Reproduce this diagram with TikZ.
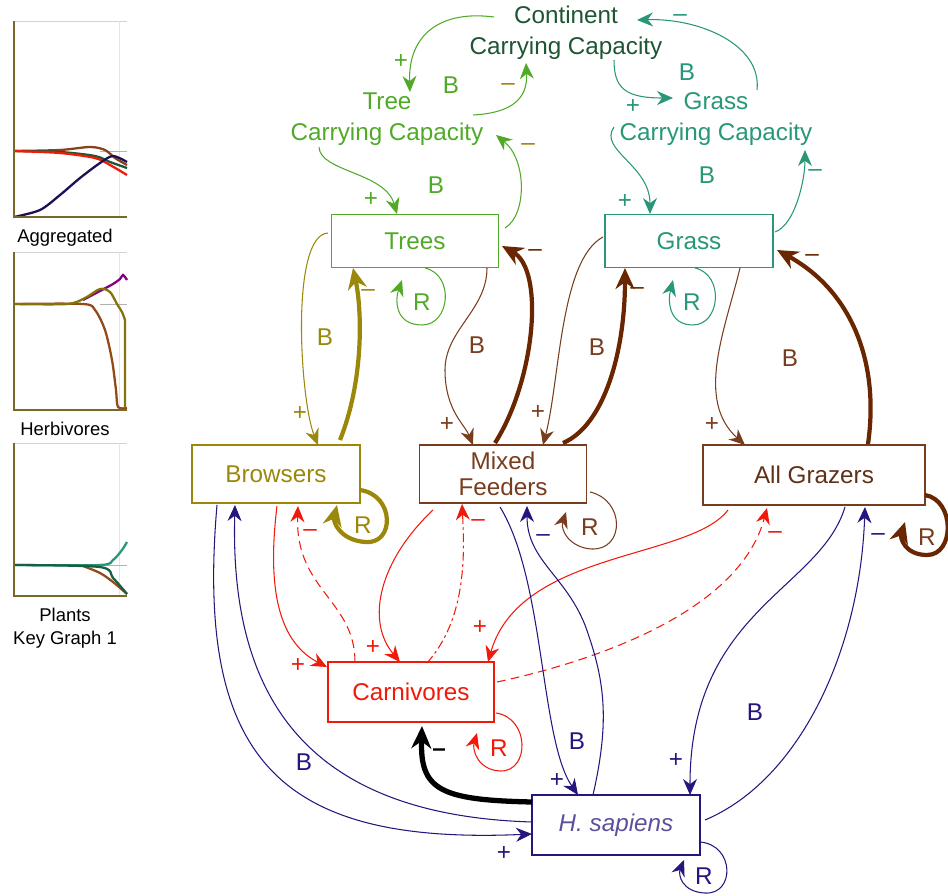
\documentclass[tikz,border=0pt]{standalone}
\usepackage{fontspec}
\setmainfont{Liberation Sans}
\usepackage{tikz}
\usetikzlibrary{positioning, calc, arrows.meta}
\definecolor{treegreen}{RGB}{80,170,40}
\definecolor{contgreen}{RGB}{30,85,50}
\definecolor{grassteal}{RGB}{40,150,120}
\definecolor{olive}{RGB}{155,135,10}
\definecolor{herbbrown}{RGB}{120,60,30}
\definecolor{darkbrown}{RGB}{105,38,0}
\definecolor{carnred}{RGB}{240,25,10}
\definecolor{navy}{RGB}{40,20,125}
\definecolor{axisolive}{RGB}{120,105,40}
\tikzstyle{stockbox} = [draw, rectangle, inner sep=0pt, line width=0.6pt,
minimum width=3.34cm, minimum height=1.06cm, align=center]
\tikzstyle{capacity} = [align=center, inner sep=0pt]
\tikzstyle{sign} = [inner sep=0pt]
\tikzstyle{thinlink} = [line width=0.6pt, -{Stealth[length=3.2mm, width=2.8mm]}]
\tikzstyle{thicklink} = [line width=2.4pt, -{Stealth[length=4.2mm, width=3.8mm]}]
\tikzstyle{weaklink} = [thinlink, dash pattern=on 5pt off 3pt]
\tikzstyle{chartline} = [line width=1.3pt]

\begin{document}
\begin{tikzpicture}[x=0.02cm, y=-0.02cm, font=\fontsize{13.8}{17.6}\selectfont]
	\useasboundingbox (0,0) rectangle (948,896);
	%% key graphs on the left
	\draw[gray!35] (14,21) -- (127,21);
	\draw[yellow!70] (119,21) -- (119,217);
	\draw[gray!60] (100,151) -- (127,151);
	\draw[chartline, herbbrown!90!orange] plot[smooth] coordinates {(14,151) (60,150) (90,147) (105,150) (115,158) (127,165)};
	\draw[chartline, contgreen] plot[smooth] coordinates {(14,151) (60,152) (95,156) (110,162) (127,168)};
	\draw[chartline, carnred] plot[smooth] coordinates {(14,151) (60,153) (95,158) (110,165) (127,175)};
	\draw[chartline, navy!70!black] plot[smooth] coordinates {(14,217) (40,210) (60,195) (80,178) (100,163) (113,156) (127,162)};
	\draw[axisolive, line width=0.9pt] (14,21) -- (14,217) -- (127,217);
	\node[font=\fontsize{10.5}{13}\selectfont] (aggr) at (65,238) {Aggregated};

	\draw[gray!35] (14,252) -- (127,252);
	\draw[yellow!70] (119,252) -- (119,410);
	\draw[gray!60] (100,304) -- (127,304);
	\draw[chartline, violet] plot[smooth] coordinates {(83,300) (100,291) (113,284) (120,279) (123,275) (127,280)};
	\draw[chartline, herbbrown!80!orange] plot[smooth] coordinates {(14,304) (83,304) (95,310) (105,330) (112,360) (116,390) (118,407) (127,408)};
	\draw[chartline, olive!85!black] plot[smooth] coordinates {(14,304) (67,304) (85,298) (100,289) (110,292) (117,304) (122,312) (125,320)} -- (125,408);
	\draw[axisolive, line width=0.9pt] (14,252) -- (14,410) -- (127,410);
	\node[font=\fontsize{10.5}{13}\selectfont] (herb) at (65,429) {Herbivores};

	\draw[gray!35] (14,443) -- (127,443);
	\draw[yellow!70] (119,443) -- (119,596);
	\draw[gray!60] (100,565) -- (127,565);
	\draw[chartline, grassteal] plot[smooth] coordinates {(14,565) (100,565) (113,560) (122,550) (127,542)};
	\draw[chartline, herbbrown!80!orange] plot[smooth] coordinates {(83,566) (100,573) (113,582) (127,594)};
	\draw[chartline, contgreen!80!teal] plot[smooth] coordinates {(14,565) (100,567) (113,578) (122,588) (127,594)};
	\draw[axisolive, line width=0.9pt] (14,443) -- (14,596) -- (127,596);
	\node[font=\fontsize{10.5}{13}\selectfont, align=center] (plants) at (65,628) {Plants\\Key Graph 1};

	%% capacities and stocks
	\node[capacity, contgreen] (cont) at (566,33) {Continent\\Carrying Capacity};
	\node[capacity, treegreen] (treecc) at (387,119) {Tree\\Carrying Capacity};
	\node[capacity, grassteal] (grasscc) at (716,119) {Grass\\Carrying Capacity};
	\node[stockbox, treegreen] (trees) at (415,241) {Trees};
	\node[stockbox, grassteal, minimum width=3.36cm] (grass) at (689,241) {Grass};
	\node[stockbox, olive, minimum height=1.16cm, minimum width=3.36cm] (brow) at (276,474) {Browsers};
	\node[stockbox, herbbrown, minimum height=1.16cm] (mixed) at (503,474) {Mixed\\[-3pt]Feeders};
	\node[stockbox, herbbrown, minimum height=1.2cm, minimum width=4.44cm] (graz) at (814,475) {\color{herbbrown!80!black}All Grazers};
	\node[stockbox, carnred, minimum height=1.2cm, minimum width=3.32cm] (carn) at (411,692) {Carnivores};
	\node[stockbox, navy, minimum height=1.2cm, minimum width=3.36cm] (sap) at (616,825) {\color{navy!75}\itshape H. sapiens};

	%% carrying capacity loops
	\draw[thinlink, treegreen] ($(cont)+(-72,-16)$) .. controls (440,10) and (408,35) .. ($(treecc)+(23,-27)$);
	\draw[thinlink, treegreen] ($(treecc)+(86,-4)$) .. controls (510,113) and (528,100) .. ($(cont)+(-40,30)$);
	\draw[thinlink, grassteal] ($(cont)+(48,27)$) .. controls (614,88) and (625,98) .. ($(grasscc)+(-43,-21)$);
	\draw[thinlink, grassteal] ($(grasscc)+(41,-29)$) .. controls (762,45) and (700,18) .. ($(cont)+(71,-13)$);
	\draw[thinlink, treegreen] ($(treecc)+(-68,28)$) .. controls (320,172) and (385,172) .. ($(trees)+(-18,-27)$);
	\draw[thinlink, treegreen] ($(trees)+(90,-13)$) .. controls (527,215) and (527,160) .. ($(treecc)+(109,16)$);
	\draw[thinlink, grassteal] ($(grasscc)+(-102,8)$) .. controls (598,150) and (650,165) .. ($(grass)+(-39,-27)$);
	\draw[thinlink, grassteal] ($(grass)+(86,-9)$) .. controls (795,225) and (805,180) .. ($(grasscc)+(89,31)$);
	\node[sign, treegreen] (p1) at (401,62) {+};
	\node[sign, olive] (m1) at (508,87) {\textendash};
	\node[sign, grassteal] (p2) at (633,107) {+};
	\node[sign, grassteal] (m2) at (680,18) {\textendash};
	\node[sign, treegreen] (p3) at (371,200) {+};
	\node[sign, olive] (m3) at (528,147) {\textendash};
	\node[sign, grassteal] (p4) at (625,202) {+};
	\node[sign, grassteal] (m4) at (815,173) {\textendash};
	\node[sign, treegreen] (b1) at (451,85) {B};
	\node[sign, grassteal] (b2) at (687,72) {B};
	\node[sign, treegreen] (b3) at (436,185) {B};
	\node[sign, grassteal] (b4) at (707,175) {B};

	%% plants to herbivores
	\draw[thinlink, olive] ($(trees)+(-87,-8)$) .. controls (290,235) and (300,400) .. ($(brow)+(42,-29)$);
	\draw[thicklink, olive] ($(brow)+(64,-34)$) .. controls (364,380) and (362,310) .. ($(trees)+(-62,27)$);
	\draw[thinlink, herbbrown] ($(trees)+(72,27)$) .. controls (487,310) and (445,330) .. (445,370) .. controls (445,410) and (465,425) .. ($(mixed)+(-30,-29)$);
	\draw[thicklink, darkbrown] ($(mixed)+(-8,-31)$) .. controls (535,380) and (545,270) .. ($(trees)+(87,5)$);
	\draw[thinlink, herbbrown] ($(grass)+(-86,-4)$) .. controls (560,260) and (560,380) .. ($(mixed)+(40,-29)$);
	\draw[thicklink, darkbrown] ($(mixed)+(60,-31)$) .. controls (605,425) and (625,350) .. ($(grass)+(-64,27)$);
	\draw[thinlink, herbbrown] ($(grass)+(51,27)$) .. controls (725,330) and (695,400) .. ($(graz)+(-69,-30)$);
	\draw[thicklink, darkbrown] ($(graz)+(54,-31)$) .. controls (880,360) and (850,290) .. ($(grass)+(88,9)$);
	\node[sign, olive] (p5) at (300,413) {+};
	\node[sign, olive] (m5) at (368,293) {\textendash};
	\node[sign, herbbrown] (p6) at (447,425) {+};
	\node[sign, darkbrown] (m6) at (535,253) {\textendash};
	\node[sign, herbbrown] (p7) at (538,412) {+};
	\node[sign, darkbrown] (m7) at (637,291) {\textendash};
	\node[sign, herbbrown] (p8) at (712,425) {+};
	\node[sign, darkbrown] (m8) at (812,258) {\textendash};
	\node[sign, olive] (b5) at (325,337) {B};
	\node[sign, herbbrown] (b6) at (477,345) {B};
	\node[sign, herbbrown] (b7) at (597,347) {B};
	\node[sign, herbbrown] (b8) at (790,358) {B};

	%% self loops
	\draw[thinlink, treegreen] ($(trees)+(10,27)$) .. controls (455,275) and (450,325) .. (422,325) .. controls (395,325) and (395,300) .. ($(trees)+(-13,39)$);
	\draw[thinlink, grassteal] ($(grass)+(6,27)$) .. controls (725,275) and (720,325) .. (693,325) .. controls (668,325) and (668,300) .. ($(grass)+(-16,39)$);
	\draw[thicklink, olive] ($(brow)+(84,16)$) .. controls (395,495) and (395,545) .. (365,542) .. controls (340,540) and (333,522) .. ($(brow)+(61,31)$);
	\draw[thinlink, herbbrown] ($(mixed)+(87,18)$) .. controls (625,500) and (625,550) .. (592,549) .. controls (570,548) and (560,530) .. ($(mixed)+(63,38)$);
	\draw[thicklink, darkbrown] ($(graz)+(111,20)$) .. controls (955,500) and (955,555) .. (927,555) .. controls (905,555) and (900,538) .. ($(graz)+(91,47)$);
	\draw[thinlink, carnred] ($(carn)+(85,21)$) .. controls (530,718) and (530,772) .. (500,771) .. controls (478,770) and (472,750) .. ($(carn)+(66,41)$);
	\draw[thinlink, navy] ($(sap)+(84,17)$) .. controls (735,845) and (735,895) .. (705,893) .. controls (682,892) and (678,875) .. ($(sap)+(68,35)$);
	\node[sign, treegreen] (r1) at (422,302) {R};
	\node[sign, grassteal] (r2) at (692,302) {R};
	\node[sign, olive] (r3) at (363,525) {R};
	\node[sign, herbbrown] (r4) at (590,527) {R};
	\node[sign, herbbrown] (r5) at (927,537) {R};
	\node[sign, carnred] (r6) at (499,748) {R};
	\node[sign, navy] (r7) at (704,876) {R};

	%% carnivores
	\draw[thinlink, carnred] ($(brow)+(1,32)$) .. controls (268,580) and (275,640) .. ($(carn)+(-84,-25)$);
	\draw[weaklink, carnred] ($(carn)+(-56,-30)$) .. controls (355,600) and (295,590) .. ($(brow)+(22,32)$);
	\draw[thinlink, carnred] ($(mixed)+(-70,36)$) .. controls (380,560) and (365,620) .. ($(carn)+(-11,-30)$);
	\draw[thinlink, carnred, dash pattern=on 5pt off 2pt on 1.5pt off 2pt] ($(carn)+(16,-29)$) .. controls (465,620) and (465,560) .. ($(mixed)+(-41,30)$);
	\draw[thinlink, carnred] ($(graz)+(-86,35)$) .. controls (690,560) and (520,550) .. ($(carn)+(77,-30)$);
	\draw[weaklink, carnred] ($(carn)+(86,-10)$) .. controls (600,660) and (740,610) .. ($(graz)+(-47,33)$);
	\node[sign, carnred] (p9) at (298,665) {+};
	\node[sign, carnred] (m9) at (310,533) {\textendash};
	\node[sign, carnred] (p10) at (373,647) {+};
	\node[sign, carnred] (m10) at (478,523) {\textendash};
	\node[sign, carnred] (p11) at (480,627) {+};
	\node[sign, carnred] (m11) at (775,535) {\textendash};

	%% H. sapiens
	\draw[thinlink, navy] ($(brow)+(-59,31)$) .. controls (195,760) and (280,845) .. ($(sap)+(-84,9)$);
	\draw[thinlink, navy] ($(sap)+(-84,-3)$) .. controls (300,815) and (230,690) .. ($(brow)+(-41,31)$);
	\draw[thinlink, navy] ($(mixed)+(-3,33)$) .. controls (545,580) and (540,740) .. ($(sap)+(-38,-30)$);
	\draw[thinlink, navy] ($(sap)+(-23,-30)$) .. controls (610,720) and (605,680) .. (585,625) .. controls (565,575) and (527,560) .. ($(mixed)+(24,32)$);
	\draw[thinlink, navy] ($(graz)+(31,32)$) .. controls (820,590) and (690,610) .. ($(sap)+(74,-30)$);
	\draw[thinlink, navy] ($(sap)+(89,-5)$) .. controls (800,780) and (860,650) .. ($(graz)+(51,32)$);
	\draw[line width=3pt, -{Stealth[length=4.5mm, width=4mm]}] ($(sap)+(-84,-23)$) .. controls (440,800) and (420,790) .. ($(carn)+(11,34)$);
	\node[sign, navy] (p12) at (504,853) {+};
	\node[sign, navy] (p13) at (557,780) {+};
	\node[sign, navy] (m12) at (543,538) {\textendash};
	\node[sign, navy] (p14) at (676,760) {+};
	\node[sign, navy] (m13) at (878,537) {\textendash};
	\node[sign] (m14) at (439,753) {\textbf{\textendash}};
	\node[sign, navy] (b9) at (304,762) {B};
	\node[sign, navy] (b10) at (577,741) {B};
	\node[sign, navy] (b11) at (755,712) {B};
\end{tikzpicture}
\end{document}
